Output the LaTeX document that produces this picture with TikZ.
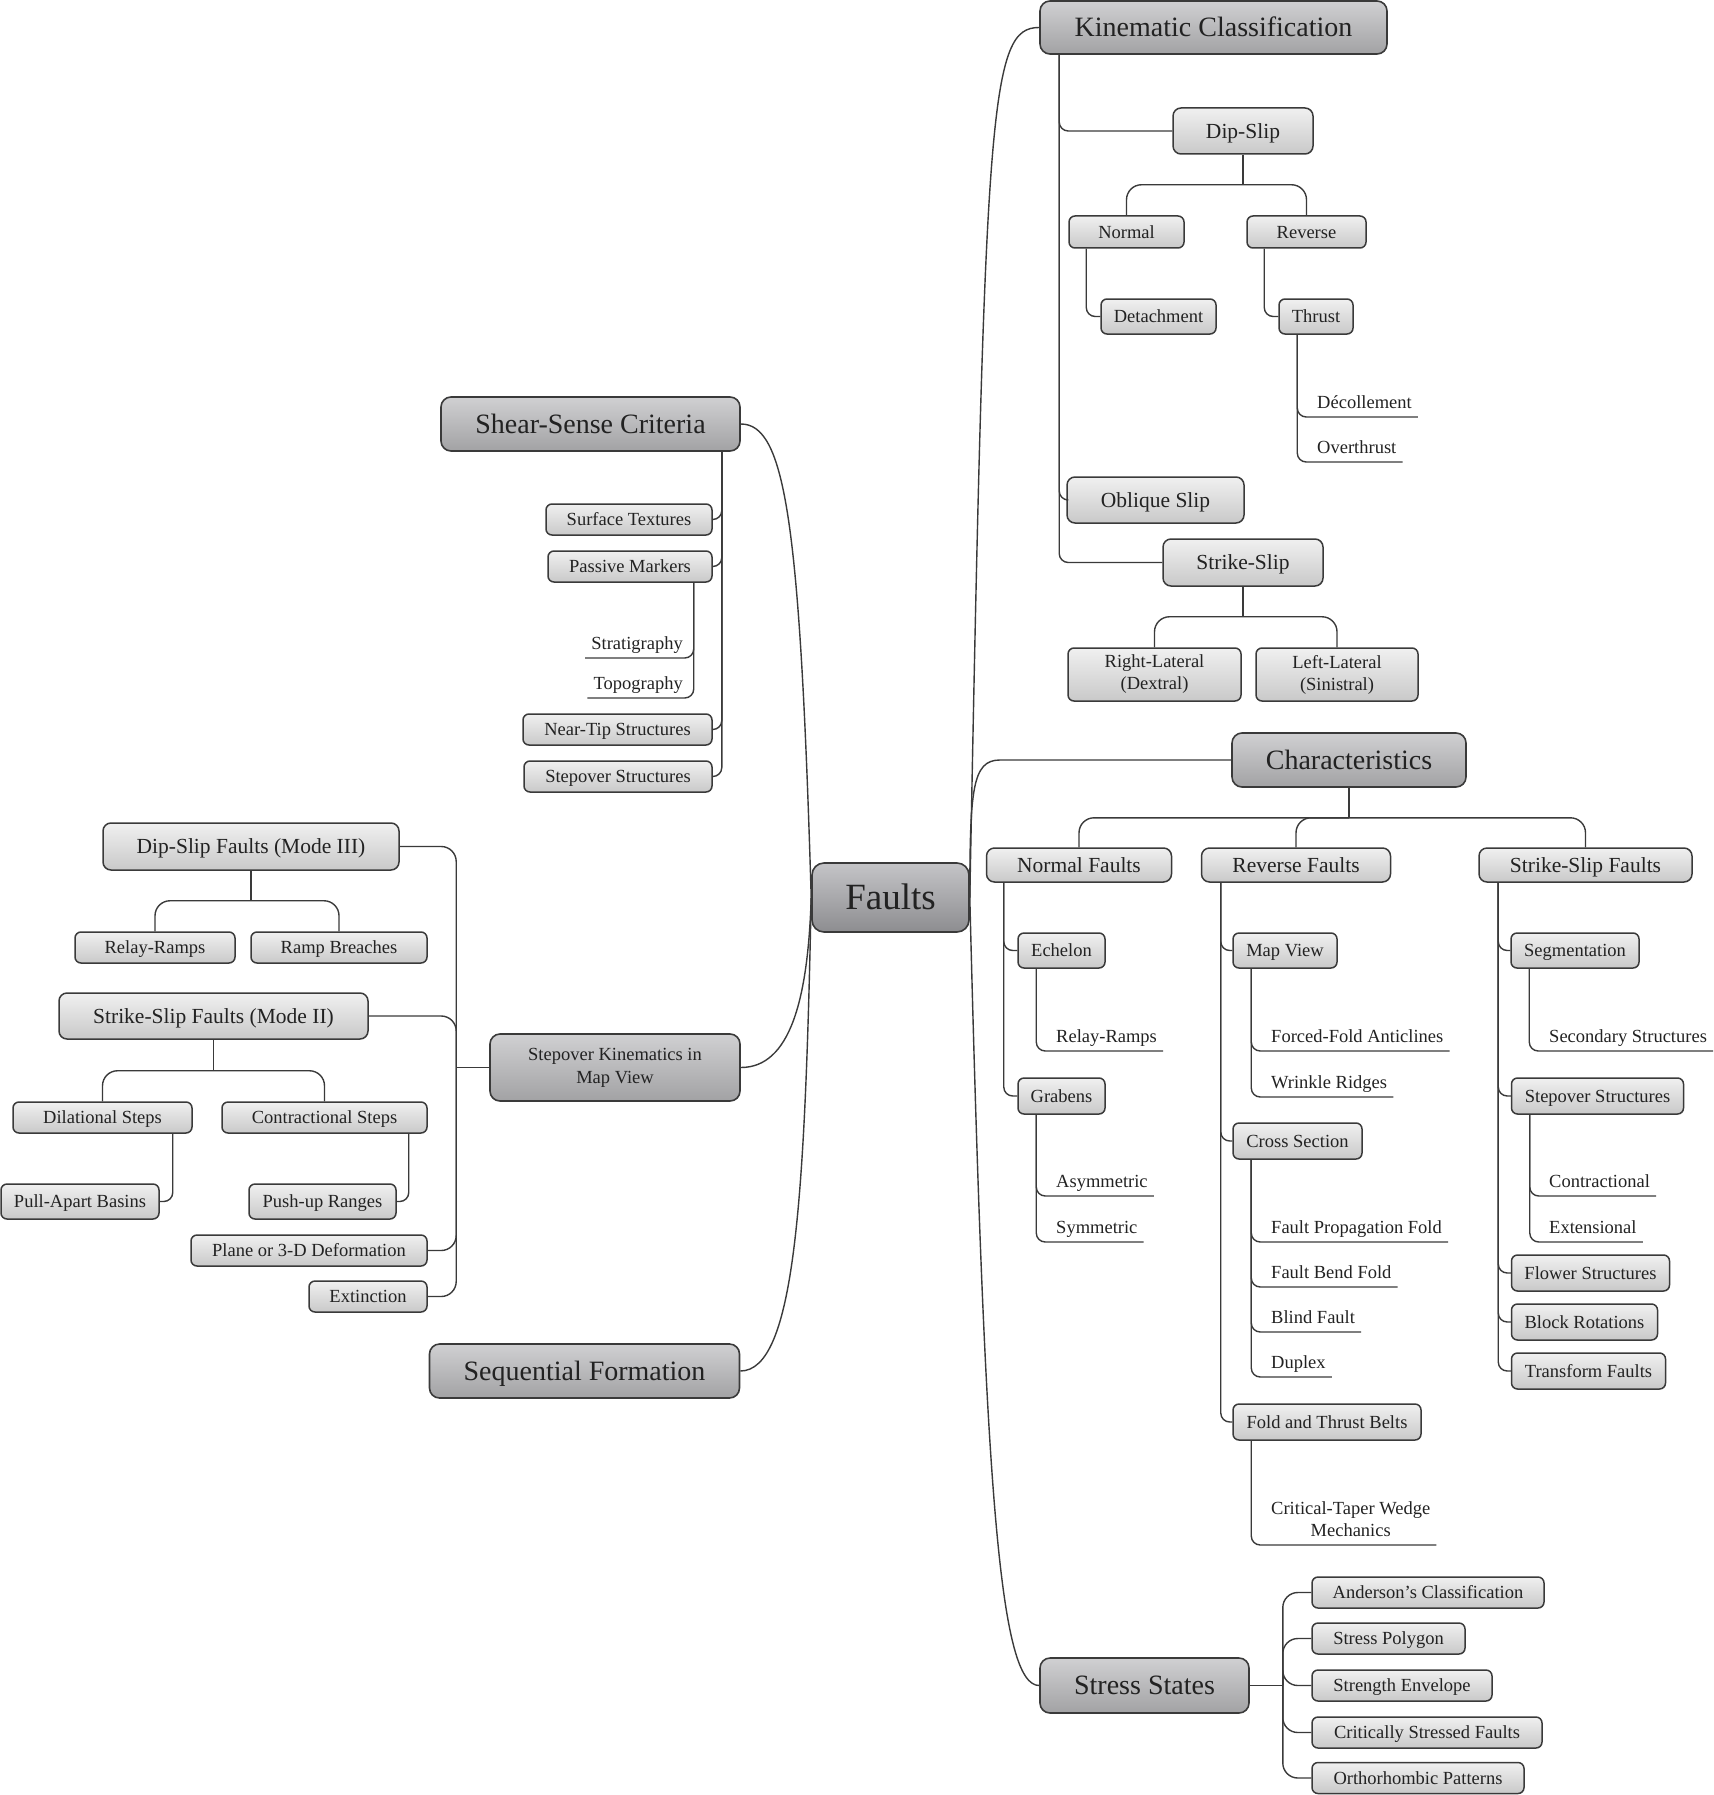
\documentclass[tikz,border=0pt]{standalone}
\usepackage{fontspec}
\setmainfont{Liberation Serif}
\usepackage{xcolor}
\usepackage{tikz}

\definecolor{rootTop}{HTML}{C4C4C7}
\definecolor{rootBot}{HTML}{8D8D90}
\definecolor{topTop}{HTML}{D0D0D2}
\definecolor{topBot}{HTML}{A2A2A4}
\definecolor{itemTop}{HTML}{F0F0F0}
\definecolor{itemBot}{HTML}{C9C9C9}
\definecolor{lineC}{HTML}{3A3A3A}
\definecolor{textC}{HTML}{222222}

\begin{document}
\begin{tikzpicture}[
    % GLOBAL CFG
    x=1pt, y=-1pt,
    text=textC,
    % Styles
    sz/.style 2 args={% box size in px
        minimum width=#1pt,
        minimum height=#2pt,
        },
    capline/.style={% centre the capitals in the box
        text height=#1,
        text depth=0pt,
        },
    twolines/.style={% undo capline for two lines
        text height={},
        text depth={},
        },
    rootbox/.style={% For the centre
        rectangle,
        rounded corners=12pt,
        draw=lineC,
        line width=1.6pt,
        top color=rootTop,
        bottom color=rootBot,
        inner sep=0pt,
        capline=24.4pt,
        font=\fontsize{37}{44}\selectfont,
        },
    topic/.style={% For the main branches
        rectangle,
        rounded corners=10pt,
        draw=lineC,
        line width=1.6pt,
        top color=topTop,
        bottom color=topBot,
        inner sep=0pt,
        align=center,
        capline=18.5pt,
        font=\fontsize{28}{33}\selectfont,
        },
    subtopic/.style={% For the second level
        rectangle,
        rounded corners=8pt,
        draw=lineC,
        line width=1.5pt,
        top color=itemTop,
        bottom color=itemBot,
        inner sep=0pt,
        align=center,
        capline=14.2pt,
        font=\fontsize{21.5}{25}\selectfont,
        },
    item/.style={% For the small boxes
        subtopic,
        rounded corners=6pt,
        capline=12.2pt,
        font=\fontsize{18.5}{22}\selectfont,
        },
    leaf/.style={% Underlined text, the link draws the line
        anchor=south west,
        inner xsep=6pt,
        inner ysep=8pt,
        text depth=0pt,
        align=center,
        font=\fontsize{18.5}{22}\selectfont,
        },
    leafL/.style={% Underlined text on the left side
        leaf,
        anchor=south east,
        },
    MainLink/.style={% Curves out of the centre
        draw=lineC,
        line width=1.4pt,
        },
    Link/.style={% Elbows
        draw=lineC,
        line width=1.4pt,
        rounded corners=9pt,
        },
    Branch/.style={% Forks below a box
        draw=lineC,
        line width=1.4pt,
        rounded corners=15pt,
        },
    ]

\useasboundingbox (0,0) rectangle (1713,1795);

    % Centre
    \node [rootbox, sz={157}{69}] (faults) at (890.5,897.5) {Faults};

    % Main topics
    \node [topic, sz={347}{53}] (kin) at (1213.5,27.5) {Kinematic Classification};
    \node [topic, sz={299}{54}] (ssc) at (590.5,424) {Shear-Sense Criteria};
    \node [topic, sz={234}{54}] (char) at (1349,760) {Characteristics};
    \node [topic, twolines, sz={250}{67}, font=\fontsize{18.5}{23}\selectfont] (skmv) at (615,1067.5) {Stepover Kinematics in\\Map View};
    \node [topic, sz={310}{54}] (seqf) at (584.5,1371) {Sequential Formation};
    \node [topic, sz={209}{55}] (stress) at (1144.5,1685.5) {Stress States};

    % Kinematic Classification
    \node [subtopic, sz={140}{46}] (dipslip) at (1243,131) {Dip-Slip};
    \node [item, sz={115}{32}] (normal) at (1126.5,232) {Normal};
    \node [item, sz={119}{32}] (reverse) at (1306.5,232) {Reverse};
    \node [item, sz={115}{35}] (detach) at (1158.5,316.5) {Detachment};
    \node [item, sz={74}{35}] (thrust) at (1316,316.5) {Thrust};
    \node [leaf] (decol) at (1311,417) {Décollement};
    \node [leaf] (overthrust) at (1311,462) {Overthrust};
    \node [subtopic, sz={177}{46}] (oblique) at (1155.5,500) {Oblique Slip};
    \node [subtopic, sz={160}{47}] (strikeslip) at (1243,562.5) {Strike-Slip};
    \node [item, twolines, sz={173}{53}] (dextral) at (1154.5,674.5) {Right-Lateral\\(Dextral)};
    \node [item, twolines, sz={162}{53}] (sinistral) at (1337,674.5) {Left-Lateral\\(Sinistral)};

    % Shear-Sense Criteria
    \node [item, sz={166}{31}] (surftex) at (629,519.5) {Surface Textures};
    \node [item, sz={164}{31}] (passive) at (630,566.5) {Passive Markers};
    \node [leafL] (strat) at (689,658) {Stratigraphy};
    \node [leafL] (topo) at (689,698) {Topography};
    \node [item, sz={189}{31}] (neartip) at (617.5,729.5) {Near-Tip Structures};
    \node [item, sz={188}{31}] (stepstruct) at (618,776.5) {Stepover Structures};

    % Stepover Kinematics in Map View
    \node [subtopic, sz={296}{47}] (dsf3) at (251,846.5) {Dip-Slip Faults (Mode III)};
    \node [item, sz={160}{31}] (relay2) at (155,947.5) {Relay-Ramps};
    \node [item, sz={176}{31}] (breach) at (339,947.5) {Ramp Breaches};
    \node [subtopic, sz={309}{46}] (ssf2) at (213.5,1016) {Strike-Slip Faults (Mode II)};
    \node [item, sz={179}{31}] (dilat) at (102.5,1117.5) {Dilational Steps};
    \node [item, sz={205}{31}] (contrs) at (324.5,1117.5) {Contractional Steps};
    \node [item, sz={158}{35}] (pullap) at (80,1201.5) {Pull-Apart Basins};
    \node [item, sz={147}{35}] (pushup) at (322.5,1201.5) {Push-up Ranges};
    \node [item, sz={236}{31}] (plane) at (309,1250.5) {Plane or 3-D Deformation};
    \node [item, sz={118}{31}] (extinct) at (368,1296.5) {Extinction};

    % Characteristics
    \node [subtopic, sz={185}{34}] (normf) at (1079,865) {Normal Faults};
    \node [subtopic, sz={189}{34}] (revf) at (1296,865) {Reverse Faults};
    \node [subtopic, sz={213}{34}] (ssf) at (1585.5,865) {Strike-Slip Faults};
    \node [item, sz={87}{35}] (echelon) at (1061.5,950.5) {Echelon};
    \node [leaf] (relay) at (1050,1051) {Relay-Ramps};
    \node [item, sz={87}{36}] (grabens) at (1061.5,1096) {Grabens};
    \node [leaf] (asym) at (1050,1196) {Asymmetric};
    \node [leaf] (sym) at (1050,1242) {Symmetric};
    \node [item, sz={104}{35}] (mapview) at (1285,950.5) {Map View};
    \node [leaf] (forced) at (1265,1051) {Forced-Fold Anticlines};
    \node [leaf] (wrinkle) at (1265,1097) {Wrinkle Ridges};
    \node [item, sz={129}{36}] (crosssec) at (1297.5,1141) {Cross Section};
    \node [leaf] (fpf) at (1265,1242) {Fault Propagation Fold};
    \node [leaf] (fbf) at (1265,1287) {Fault Bend Fold};
    \node [leaf] (blind) at (1265,1332) {Blind Fault};
    \node [leaf] (duplex) at (1265,1377) {Duplex};
    \node [item, sz={188}{36}] (ftb) at (1327,1422) {Fold and Thrust Belts};
    \node [leaf] (ctwm) at (1265,1545) {Critical-Taper Wedge\\Mechanics};
    \node [item, sz={128}{35}] (segm) at (1575,950.5) {Segmentation};
    \node [leaf] (secstr) at (1543,1051) {Secondary Structures};
    \node [item, sz={172}{36}] (stepover) at (1597.5,1096) {Stepover Structures};
    \node [leaf] (contr) at (1543,1196) {Contractional};
    \node [leaf] (exten) at (1543,1242) {Extensional};
    \node [item, sz={158}{36}] (flower) at (1590.5,1273) {Flower Structures};
    \node [item, sz={146}{36}] (block) at (1584.5,1322) {Block Rotations};
    \node [item, sz={154}{36}] (transf) at (1588.5,1371) {Transform Faults};

    % Stress States
    \node [item, sz={232}{31}] (anders) at (1428,1592.5) {Anderson’s Classification};
    \node [item, sz={153}{31}] (polygon) at (1388.5,1638.5) {Stress Polygon};
    \node [item, sz={180}{31}] (strength) at (1402,1685.5) {Strength Envelope};
    \node [item, sz={230}{31}] (critical) at (1427,1732.5) {Critically Stressed Faults};
    \node [item, sz={212}{31}] (ortho) at (1418,1778) {Orthorhombic Patterns};

    % Curves out of the centre
    \draw [MainLink] (faults.east) .. controls (985,100) and (990,27.5) .. (kin.west);
    \draw [MainLink] (faults.east) .. controls (970,790) and (972,760) .. (1000,760) -- (char.west);
    \draw [MainLink] (faults.east) .. controls (985,1500) and (1000,1685.5) .. (stress.west);
    \draw [MainLink] (faults.west) .. controls (800,520) and (785,424) .. (ssc.east);
    \draw [MainLink] (faults.west) .. controls (808,1000) and (790,1067.5) .. (skmv.east);
    \draw [MainLink] (faults.west) .. controls (805,1200) and (795,1371) .. (seqf.east);

    % Kinematic Classification
    \draw [Link] ([xshift=20pt]kin.south west) |- (dipslip.west);
    \draw [Link] ([xshift=20pt]kin.south west) |- (oblique.west);
    \draw [Link] ([xshift=20pt]kin.south west) |- (strikeslip.west);
    \draw [Link] (dipslip.south) -- ++(0,30) coordinate (dsj);
    \draw [Branch] (normal.north) |- (dsj) -| (reverse.north);
    \draw [Link] ([xshift=18pt]normal.south west) |- (detach.west);
    \draw [Link] ([xshift=18pt]reverse.south west) |- (thrust.west);
    \draw [Link] ([xshift=19pt]thrust.south west) |- (decol.south east);
    \draw [Link] ([xshift=19pt]thrust.south west) |- (overthrust.south east);
    \draw [Link] (strikeslip.south) -- ++(0,30) coordinate (ssj);
    \draw [Branch] (dextral.north) |- (ssj) -| (sinistral.north);

    % Shear-Sense Criteria
    \foreach \n in {surftex, passive, neartip, stepstruct}
        \draw [Link] ([xshift=-19pt]ssc.south east) |- (\n.east);
    \draw [Link] ([xshift=-19pt]passive.south east) |- (strat.south west);
    \draw [Link] ([xshift=-19pt]passive.south east) |- (topo.south west);

    % Stepover Kinematics in Map View
    \coordinate (skj) at ([xshift=-33pt]skmv.west);
    \draw [Link] (skmv.west) -- (skj);
    \foreach \n in {dsf3, ssf2, plane, extinct}
        \draw [Branch] (skj) |- (\n.east);
    \draw [Link] (dsf3.south) -- ++(0,30) coordinate (d3j);
    \draw [Branch] (relay2.north) |- (d3j) -| (breach.north);
    \draw [Link] (ssf2.south) -- ++(0,31) coordinate (s2j);
    \draw [Branch] (dilat.north) |- (s2j) -| (contrs.north);
    \draw [Link] ([xshift=-20pt]dilat.south east) |- (pullap.east);
    \draw [Link] ([xshift=-19pt]contrs.south east) |- (pushup.east);

    % Characteristics
    \draw [Link] (char.south) -- ++(0,30) coordinate (chj);
    \draw [Branch] (normf.north) |- (chj) -| (ssf.north);
    \draw [Branch] (chj) -| (revf.north);
    \foreach \n in {echelon, grabens}
        \draw [Link] ([xshift=18pt]normf.south west) |- (\n.west);
    \draw [Link] ([xshift=19pt]echelon.south west) |- (relay.south east);
    \foreach \n in {asym, sym}
        \draw [Link] ([xshift=19pt]grabens.south west) |- (\n.south east);
    \foreach \n in {mapview, crosssec, ftb}
        \draw [Link] ([xshift=20pt]revf.south west) |- (\n.west);
    \foreach \n in {forced, wrinkle}
        \draw [Link] ([xshift=19pt]mapview.south west) |- (\n.south east);
    \foreach \n in {fpf, fbf, blind, duplex}
        \draw [Link] ([xshift=19pt]crosssec.south west) |- (\n.south east);
    \draw [Link] ([xshift=19pt]ftb.south west) |- (ctwm.south east);
    \foreach \n in {segm, stepover, flower, block, transf}
        \draw [Link] ([xshift=20pt]ssf.south west) |- (\n.west);
    \draw [Link] ([xshift=19pt]segm.south west) |- (secstr.south east);
    \foreach \n in {contr, exten}
        \draw [Link] ([xshift=19pt]stepover.south west) |- (\n.south east);

    % Stress States
    \coordinate (stj) at ([xshift=33pt]stress.east);
    \draw [Link] (stress.east) -- (stj);
    \foreach \n in {anders, polygon, strength, critical, ortho}
        \draw [Branch] (stj) |- (\n.west);

\end{tikzpicture}
\end{document}
